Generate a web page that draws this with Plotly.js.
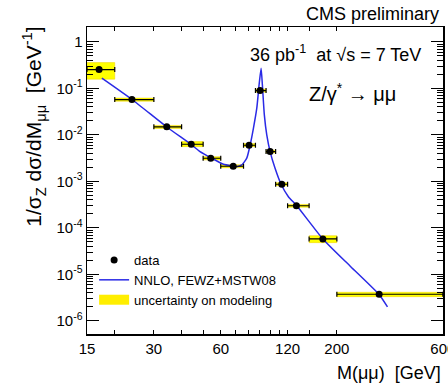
<!DOCTYPE html>
<html>
<head>
<meta charset="utf-8">
<script src="https://cdn.plot.ly/plotly-3.0.1.min.js"></script>
<style>html,body{margin:0;padding:0;background:#fff;}#chart{width:448px;height:384px;}</style>
</head>
<body>
<div id="chart"></div>
<script>
// Bins (GeV) and measured values
var binLo = [15, 20, 30, 40, 50, 60, 76, 86, 96, 106, 120, 150, 200];
var binHi = [20, 30, 40, 50, 60, 76, 86, 96, 106, 120, 150, 200, 600];
var dataM = [17.0, 23.9, 34.3, 44.2, 54.1, 68.3, 80.5, 90.2, 100.1, 113, 131.5, 173, 310];
var dataV = [0.254, 0.0574, 0.0149, 0.0063, 0.00315, 0.00212, 0.0060, 0.0897, 0.00438, 0.00087, 0.00030, 0.000058, 0.00000375];
// Uncertainty on modeling (band low / high)
var uncLo = [0.158, 0.053, 0.0138, 0.0056, 0.0029, 0.00197, 0.0056, 0.083, 0.0041, 0.00081, 0.00028, 0.0000483, 0.00000333];
var uncHi = [0.359, 0.062, 0.016, 0.00718, 0.0034, 0.00228, 0.0065, 0.097, 0.0047, 0.00094, 0.00032, 0.0000683, 0.00000414];
// NNLO prediction curve
var curveM = [17.5, 24, 34.3, 44.2, 48.4, 54.7, 61.7, 67.7, 70.9, 74.6, 78.6, 81.4, 84.2, 87.2, 89.3, 91.2, 92.4, 94.3, 96.7, 100.1, 105.4, 112.2, 121, 132, 172.9, 231, 310, 338];
var curveV = [0.166, 0.057, 0.0148, 0.0062, 0.00438, 0.00316, 0.00234, 0.00215, 0.00208, 0.00226, 0.00316, 0.0061, 0.0139, 0.0375, 0.119, 0.27, 0.119, 0.0269, 0.0100, 0.00438, 0.00192, 0.00087, 0.00047, 0.00030, 0.000058, 0.0000147, 0.0000037, 0.000002];
// Tick labels
var xTickVals = [15, 20, 30, 40, 50, 60, 70, 80, 90, 100, 110, 120, 150, 200, 600];
var xTickText = ['15', '', '30', '', '', '60', '', '', '', '', '', '120', '', '200', '600'];
var yTickVals = [1e-6, 1e-5, 1e-4, 1e-3, 1e-2, 1e-1, 1];
var yTickText = ['10<sup>-6</sup>', '10<sup>-5</sup>', '10<sup>-4</sup>', '10<sup>-3</sup>', '10<sup>-2</sup>', '10<sup>-1</sup>', '1'];

var yMinor = [];
yTickVals.forEach(function (d) { for (var k = 2; k <= 9; k++) { yMinor.push(d * k); } });

// boxes for the uncertainty band
var bx = [], by = [];
for (var i = 0; i < binLo.length; i++) {
  bx.push(binLo[i], binHi[i], binHi[i], binLo[i], binLo[i], null);
  by.push(uncLo[i], uncLo[i], uncHi[i], uncHi[i], uncLo[i], null);
}
var errPlus = dataM.map(function (m, i) { return binHi[i] - m; });
var errMinus = dataM.map(function (m, i) { return m - binLo[i]; });

var FONT = 'Liberation Sans, Arial, Helvetica, sans-serif';

var traces = [
  {
    x: bx, y: by, type: 'scatter', mode: 'lines', fill: 'toself',
    fillcolor: '#ffff00', line: {color: '#f2d000', width: 0.5},
    name: 'uncertainty on modeling', hoverinfo: 'skip', showlegend: false
  },
  {
    // legend entry for the band
    x: [null], y: [null], type: 'scatter', mode: 'lines',
    line: {color: '#ffee00', width: 12},
    name: 'uncertainty on modeling'
  },
  {
    x: curveM, y: curveV, type: 'scatter', mode: 'lines',
    line: {color: '#2a2ae6', width: 1.5, shape: 'spline', smoothing: 0.5},
    name: 'NNLO, FEWZ+MSTW08'
  },
  {
    x: dataM, y: dataV, type: 'scatter', mode: 'markers',
    marker: {color: '#000', size: 7},
    error_x: {type: 'data', symmetric: false, array: errPlus, arrayminus: errMinus, color: '#000', thickness: 1.2, width: 2.5},
    name: 'data'
  }
];

var layout = {
  width: 448, height: 384,
  margin: {l: 87, r: 5, t: 27, b: 50, pad: 0},
  paper_bgcolor: '#fff', plot_bgcolor: '#fff',
  font: {family: FONT, color: '#000', size: 15},
  showlegend: true,
  legend: {x: 0.02, y: 0.29, xanchor: 'left', yanchor: 'top', bgcolor: 'rgba(0,0,0,0)',
           font: {family: FONT, size: 13, color: '#000'}, traceorder: 'reversed', tracegroupgap: 0},
  xaxis: {
    type: 'log', range: [Math.log10(15), Math.log10(601)],
    tickmode: 'array', tickvals: xTickVals, ticktext: xTickText,
    ticks: 'inside', ticklen: 4, tickwidth: 1, tickcolor: '#000',
    showline: true, linecolor: '#000', linewidth: 1.5, mirror: 'allticks',
    showgrid: false, zeroline: false, tickfont: {size: 15}, ticklabeloverflow: 'allow'
  },
  yaxis: {
    type: 'log', range: [-6.28, 0.32],
    tickmode: 'array', tickvals: yTickVals, ticktext: yTickText,
    ticks: 'inside', ticklen: 12, tickwidth: 1, tickcolor: '#000',
    showline: true, linecolor: '#000', linewidth: 1.5, mirror: 'allticks',
    showgrid: false, zeroline: false, tickfont: {size: 15},
    minor: {tickmode: 'array', tickvals: yMinor, ticks: 'inside', ticklen: 6, tickwidth: 1, tickcolor: '#000', showgrid: false}
  },
  annotations: [
    {text: 'CMS preliminary', xref: 'paper', yref: 'paper', x: 0.994, y: 1.042, xanchor: 'right', yanchor: 'middle', showarrow: false, font: {size: 18}},
    {text: '36 pb<sup>-1</sup>  at √s = 7 TeV', xref: 'paper', yref: 'paper', x: 0.698, y: 0.915, xanchor: 'center', yanchor: 'middle', showarrow: false, font: {size: 18}},
    {text: 'Z/γ<sup>*</sup> → μμ', xref: 'paper', yref: 'paper', x: 0.745, y: 0.788, xanchor: 'center', yanchor: 'middle', showarrow: false, font: {size: 20}},
    {text: 'M(μμ)  [GeV]', xref: 'paper', yref: 'paper', x: 1.0, y: -0.127, xanchor: 'right', yanchor: 'middle', showarrow: false, font: {size: 18}},
    {text: '1/σ<sub>Z</sub> dσ/dM<sub>μμ</sub>  [GeV<sup>-1</sup>]', xref: 'paper', yref: 'paper', x: -0.15, y: 1.006, xanchor: 'center', yanchor: 'top', textangle: -90, showarrow: false, font: {size: 21}}
  ]
};

Plotly.newPlot('chart', traces, layout, {staticPlot: true, displayModeBar: false});
</script>
</body>
</html>
